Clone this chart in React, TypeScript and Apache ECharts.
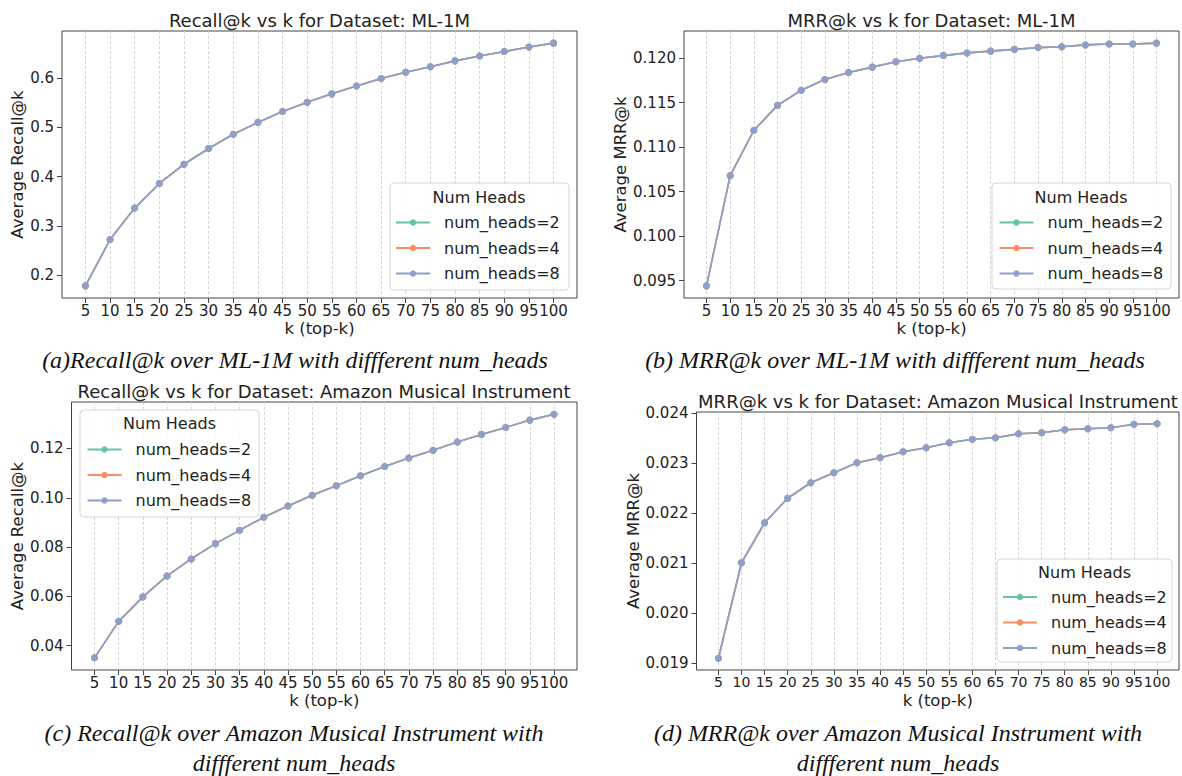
import React, { useEffect, useRef } from "react";
import * as echarts from "echarts";

// ---- data ----
const ks = [5, 10, 15, 20, 25, 30, 35, 40, 45, 50, 55, 60, 65, 70, 75, 80, 85, 90, 95, 100];
const headNames = ["num_heads=2", "num_heads=4", "num_heads=8"];
const headColors = ["#66c2a5", "#fc8d62", "#8da0cb"];

// the three head settings overlap exactly in every panel (only the last one is visible)
const recallML1M = [0.178, 0.272, 0.336, 0.386, 0.425, 0.457, 0.486, 0.510, 0.532, 0.551, 0.568, 0.584, 0.599, 0.612, 0.623, 0.635, 0.645, 0.654, 0.663, 0.671];
const mrrML1M = [0.0944, 0.1068, 0.1119, 0.1147, 0.1164, 0.1176, 0.1184, 0.1190, 0.1196, 0.1200, 0.1203, 0.1206, 0.1208, 0.1210, 0.1212, 0.1213, 0.1215, 0.1216, 0.1216, 0.1217];
const recallAmazon = [0.0351, 0.0499, 0.0598, 0.0683, 0.0752, 0.0814, 0.0868, 0.0921, 0.0967, 0.1010, 0.1049, 0.1089, 0.1127, 0.1161, 0.1193, 0.1226, 0.1257, 0.1285, 0.1315, 0.1339];
const mrrAmazon = [0.0191, 0.02101, 0.02181, 0.0223, 0.02261, 0.02281, 0.02301, 0.02311, 0.02323, 0.02331, 0.02341, 0.02348, 0.02351, 0.02359, 0.02361, 0.02367, 0.02369, 0.02371, 0.02378, 0.02379];

const yTicksRecallML = [0.2, 0.3, 0.4, 0.5, 0.6];
const yTicksMrrML = [0.095, 0.1, 0.105, 0.11, 0.115, 0.12];
const yTicksRecallAmz = [0.04, 0.06, 0.08, 0.1, 0.12];
const yTicksMrrAmz = [0.019, 0.02, 0.021, 0.022, 0.023, 0.024];

const titles = [
  "Recall@k vs k for Dataset: ML-1M",
  "MRR@k vs k for Dataset: ML-1M",
  "Recall@k vs k for Dataset: Amazon Musical Instrument",
  "MRR@k vs k for Dataset: Amazon Musical Instrument",
];
const yNames = ["Average Recall@k", "Average MRR@k", "Average Recall@k", "Average MRR@k"];
const xName = "k (top-k)";
const legendTitle = "Num Heads";
const captions = [
  ["(a)Recall@k over ML-1M with diffferent num_heads"],
  ["(b) MRR@k over ML-1M with diffferent num_heads"],
  ["(c) Recall@k over Amazon Musical Instrument with", "diffferent num_heads"],
  ["(d) MRR@k over Amazon Musical Instrument with", "diffferent num_heads"],
];

// ---- layout ----
const SANS = "'DejaVu Sans', sans-serif";
const SERIF = "'Liberation Serif', 'Times New Roman', serif";
const TEXT = "#222";

const panels = [
  { values: recallML1M, yTicks: yTicksRecallML, dec: 1, xFont: 15, grid: { left: 62, top: 31, width: 515, height: 267 }, titleAt: [319.5, 20], yGap: 36,
    legend: { box: [390, 183, 179, 107], titleAt: [479, 197.5], left: 395, top: 214.5 }, capAt: [295, [360]] },
  { values: mrrML1M, yTicks: yTicksMrrML, dec: 3, xFont: 15, grid: { left: 684, top: 31, width: 495, height: 267 }, titleAt: [931.5, 20], yGap: 52,
    legend: { box: [992, 183, 179, 106], titleAt: [1081, 197.5], left: 998.5, top: 214.5 }, capAt: [895, [360]] },
  { values: recallAmazon, yTicks: yTicksRecallAmz, dec: 2, xFont: 15, grid: { left: 71.5, top: 402, width: 505.5, height: 268 }, titleAt: [324, 391], yGap: 44,
    legend: { box: [80, 410, 179, 107], titleAt: [169.5, 423.5], left: 86.5, top: 441.5 }, capAt: [294, [733, 763]] },
  { values: mrrAmazon, yTicks: yTicksMrrAmz, dec: 3, xFont: 14, grid: { left: 696.5, top: 412, width: 482.5, height: 258 }, titleAt: [938, 401], yGap: 51,
    legend: { box: [997, 559, 175, 103], titleAt: [1084.5, 572.5], left: 1002, top: 589 }, capAt: [898, [733, 763]] },
];

function padExtent(vals: number[]): [number, number] {
  const lo = Math.min(...vals);
  const hi = Math.max(...vals);
  const m = (hi - lo) * 0.05;
  return [lo - m, hi + m];
}

function buildOption() {
  const [xMin, xMax] = padExtent(ks);
  const grid: any[] = [];
  const xAxis: any[] = [];
  const yAxis: any[] = [];
  const series: any[] = [];
  const legend: any[] = [];
  const graphic: any[] = [];

  panels.forEach((p, pi) => {
    grid.push({ ...p.grid, show: true, borderColor: "#444", borderWidth: 1, backgroundColor: "transparent", containLabel: false });
    xAxis.push({
      type: "value", gridIndex: pi, min: xMin, max: xMax,
      axisLine: { show: false },
      axisTick: { show: true, customValues: ks, length: 5, lineStyle: { color: "#444", width: 1 } },
      axisLabel: {
        customValues: ks, fontSize: p.xFont, color: TEXT, margin: 5, fontFamily: SANS,
        showMinLabel: true, showMaxLabel: true, hideOverlap: false,
        formatter: (v: number) => String(Math.round(v)),
      },
      splitLine: { show: true, lineStyle: { color: "#cccccc", type: [3, 2], width: 0.8 } },
      name: xName, nameLocation: "middle", nameGap: 22,
      nameTextStyle: { fontSize: 16.5, color: TEXT, fontFamily: SANS },
    });
    const [yMin, yMax] = padExtent(p.values);
    yAxis.push({
      type: "value", gridIndex: pi, min: yMin, max: yMax,
      axisLine: { show: false },
      axisTick: { show: true, customValues: p.yTicks, length: 5, lineStyle: { color: "#444", width: 1 } },
      axisLabel: {
        customValues: p.yTicks, fontSize: 15, color: TEXT, margin: 8, fontFamily: SANS,
        showMinLabel: true, showMaxLabel: true, hideOverlap: false,
        formatter: (v: number) => v.toFixed(p.dec),
      },
      splitLine: { show: false },
      name: yNames[pi], nameLocation: "middle", nameGap: p.yGap, nameRotate: 90,
      nameTextStyle: { fontSize: 16.5, color: TEXT, fontFamily: SANS },
    });
    headNames.forEach((hn, hi) => {
      series.push({
        type: "line", name: hn, xAxisIndex: pi, yAxisIndex: pi,
        data: ks.map((k, i) => [k, p.values[i]]),
        symbol: "circle", symbolSize: 7, showSymbol: true,
        lineStyle: { color: headColors[hi], width: 1.6 },
        itemStyle: { color: headColors[hi] },
        emphasis: { disabled: true }, z: 2 + hi,
      });
    });
    legend.push({
      data: headNames, orient: "vertical", left: p.legend.left, top: p.legend.top,
      itemWidth: 34, itemHeight: 8, itemGap: 9.5, selectedMode: false, padding: 0, z: 10,
      textStyle: { fontSize: 16, color: TEXT, fontFamily: SANS, lineHeight: 16, padding: [0, 0, 0, 9] },
    });
    const [bx, by, bw, bh] = p.legend.box;
    graphic.push({
      type: "rect", z: 8, shape: { x: bx, y: by, width: bw, height: bh, r: 4 },
      style: { fill: "rgba(255,255,255,0.85)", stroke: "#d6d6d6", lineWidth: 1 },
    });
    graphic.push({
      type: "text", z: 9, x: p.legend.titleAt[0], y: p.legend.titleAt[1],
      style: { text: legendTitle, fontSize: 16, fontFamily: SANS, fill: TEXT, textAlign: "center", textVerticalAlign: "middle" },
    });
    graphic.push({
      type: "text", z: 9, x: p.titleAt[0], y: p.titleAt[1],
      style: { text: titles[pi], fontSize: 18, fontFamily: SANS, fill: TEXT, textAlign: "center", textVerticalAlign: "middle" },
    });
    captions[pi].forEach((line, li) => {
      graphic.push({
        type: "text", z: 9, x: p.capAt[0], y: p.capAt[1][li],
        style: { text: line, fontSize: 24, fontFamily: SERIF, fontStyle: "italic", fill: "#111", textAlign: "center", textVerticalAlign: "middle" },
      });
    });
  });

  return { animation: false, backgroundColor: "#ffffff", grid, xAxis, yAxis, series, legend, graphic };
}

export default function App() {
  const ref = useRef<HTMLDivElement>(null);
  useEffect(() => {
    if (!ref.current) return;
    const chart = echarts.init(ref.current, null, { renderer: "svg" });
    chart.setOption(buildOption() as any);
    return () => chart.dispose();
  }, []);
  return <div ref={ref} style={{ position: "fixed", left: 0, top: 0, width: 1182, height: 776, background: "#fff" }} />;
}
